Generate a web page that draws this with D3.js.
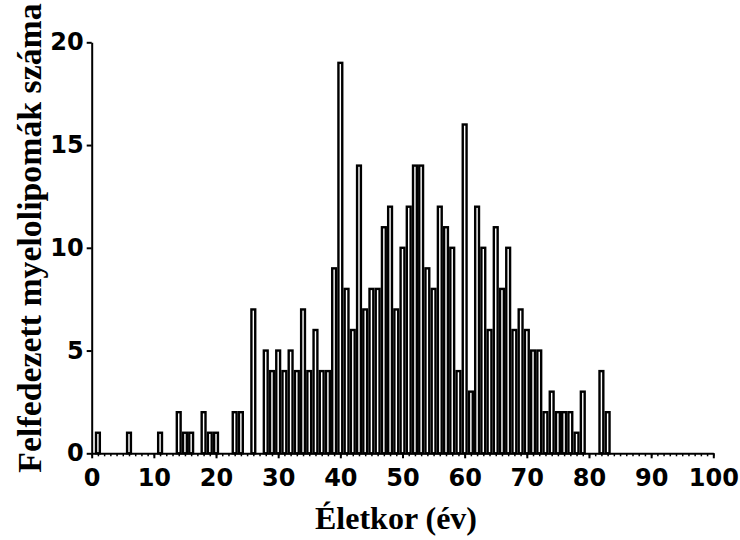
<!DOCTYPE html>
<html>
<head>
<meta charset="utf-8">
<script src="https://cdn.jsdelivr.net/npm/d3@7"></script>
<style>
  body { margin: 0; background: #fff; }
  .tick text { font-family: "DejaVu Sans", sans-serif; font-weight: bold; font-size: 24px; fill: #000; }
  .title { font-family: "Liberation Serif", "Times New Roman", serif; font-weight: bold; font-size: 32px; fill: #000; }
</style>
</head>
<body>
<div id="chart"></div>
<script>
// ages (years) and number of myelolipomas found at each age
const ages = d3.range(0, 101);
const counts = [
  0, 1, 0, 0, 0, 0, 1, 0, 0, 0,   // 0-9
  0, 1, 0, 0, 2, 1, 1, 0, 2, 1,   // 10-19
  1, 0, 0, 2, 2, 0, 7, 0, 5, 4,   // 20-29
  5, 4, 5, 4, 7, 4, 6, 4, 4, 9,   // 30-39
  19, 8, 6, 14, 7, 8, 8, 11, 12, 7, // 40-49
  10, 12, 14, 14, 9, 8, 12, 11, 10, 4, // 50-59
  16, 3, 12, 10, 6, 11, 8, 10, 6, 7, // 60-69
  6, 5, 5, 2, 3, 2, 2, 2, 1, 3,   // 70-79
  0, 0, 4, 2, 0, 0, 0, 0, 0, 0,   // 80-89
  0, 0, 0, 0, 0, 0, 0, 0, 0, 0, 0 // 90-100
];
const xTicks = d3.range(0, 101, 10);
const yTicks = [0, 5, 10, 15, 20];
const xTitle = 'Életkor (év)';
const yTitle = 'Felfedezett myelolipomák száma';

const width = 740, height = 540;

const svg = d3.select('#chart')
  .append('svg')
  .attr('width', width)
  .attr('height', height);

const x = d3.scaleLinear().domain([0, 100]).range([91.7, 713.3]);
const y = d3.scaleLinear().domain([0, 20]).range([453.3, 42.3]);
const step = x(1) - x(0);

// bars, one per year, centred on the age
svg.append('g')
  .selectAll('rect')
  .data(ages.filter((a) => counts[a] > 0))
  .join('rect')
  .attr('x', (a) => x(a) - step / 2 + 1.2)
  .attr('width', step - 2.4)
  .attr('y', (a) => y(counts[a]))
  .attr('height', (a) => y(0) - y(counts[a]))
  .attr('fill', '#fff')
  .attr('stroke', '#000')
  .attr('stroke-width', 2.4);

// minor ticks on x, every year
svg.append('g')
  .attr('transform', `translate(0,${y(0)})`)
  .call(d3.axisBottom(x).tickValues(ages).tickSize(3).tickSizeOuter(0).tickFormat(''))
  .call((g) => g.select('.domain').remove())
  .call((g) => g.selectAll('line').attr('stroke', '#000').attr('stroke-width', 1.5));

// major x axis
svg.append('g')
  .attr('transform', `translate(0,${y(0)})`)
  .call(d3.axisBottom(x).tickValues(xTicks).tickSize(5).tickPadding(10.5).tickSizeOuter(0))
  .call((g) => g.select('.domain').attr('stroke', '#000').attr('stroke-width', 2))
  .call((g) => g.selectAll('line').attr('stroke', '#000').attr('stroke-width', 2));

// y axis
svg.append('g')
  .attr('transform', `translate(${x(0)},0)`)
  .call(d3.axisLeft(y).tickValues(yTicks).tickSize(5).tickPadding(3).tickSizeOuter(0))
  .call((g) => g.select('.domain').attr('stroke', '#000').attr('stroke-width', 2))
  .call((g) => g.selectAll('line').attr('stroke', '#000').attr('stroke-width', 2));

svg.append('text')
  .attr('class', 'title')
  .attr('x', 396)
  .attr('y', 529)
  .attr('text-anchor', 'middle')
  .text(xTitle);

svg.append('text')
  .attr('class', 'title')
  .attr('transform', 'translate(41,238) rotate(-90)')
  .attr('text-anchor', 'middle')
  .style('font-size', '33.8px')
  .text(yTitle);
</script>
</body>
</html>
